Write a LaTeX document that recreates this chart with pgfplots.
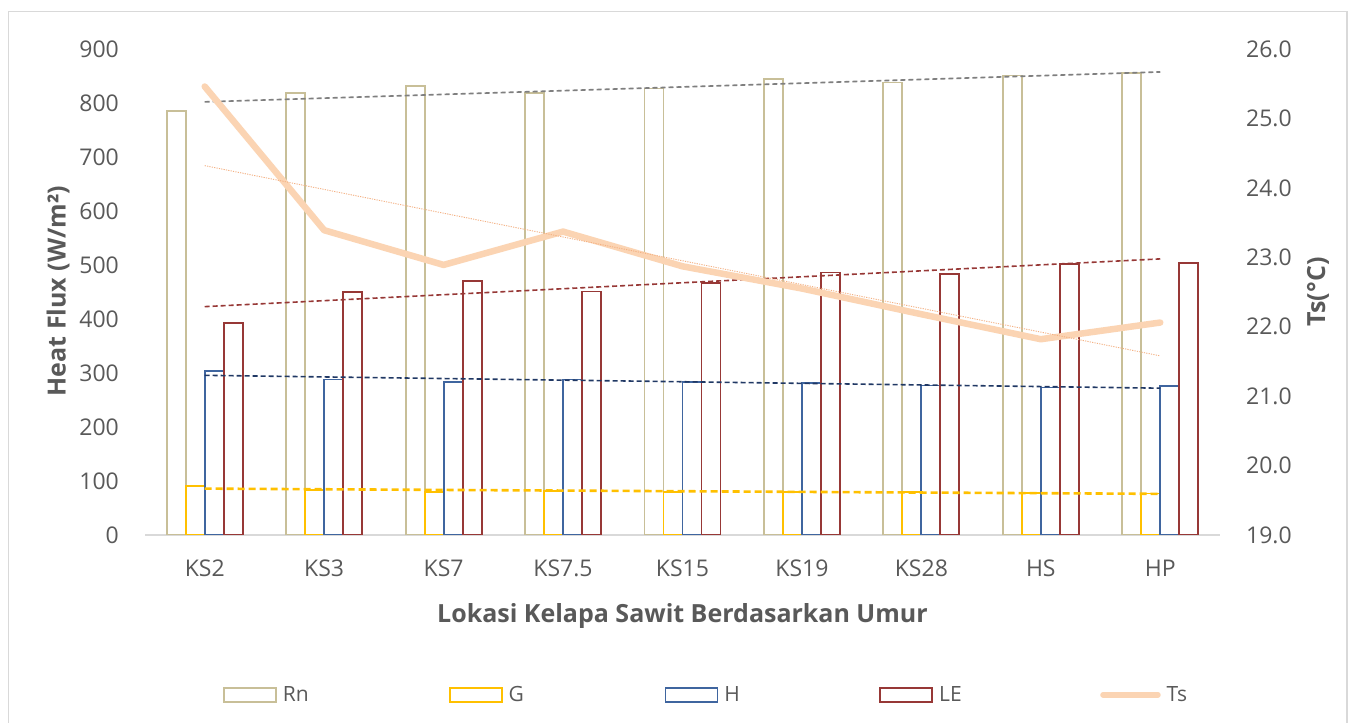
\documentclass[border=0pt]{standalone}
\usepackage{fontspec}
\setmainfont{Open Sans}
\usepackage{pgfplots}
\pgfplotsset{compat=1.18}

\definecolor{rncol}{HTML}{C8BF98}
\definecolor{gcol}{HTML}{FFC000}
\definecolor{hcol}{HTML}{3F659F}
\definecolor{lecol}{HTML}{973836}
\definecolor{tscol}{HTML}{FBD4B3}
\definecolor{txt}{HTML}{595959}
\definecolor{framecol}{HTML}{D9D9D9}
\definecolor{htrend}{HTML}{203864}
\definecolor{rntrend}{HTML}{7F7F7F}
\definecolor{tstrend}{HTML}{F4B183}

\newcommand{\tickfont}{\fontsize{23bp}{27bp}\selectfont}
\newcommand{\titlefont}{\fontsize{25bp}{30bp}\selectfont\bfseries}

\pgfplotsset{
  boxlegend/.style={legend image code/.code={\draw[draw=#1, line width=1.8bp] (0bp,-7bp) rectangle (52bp,7bp);}},
  common/.style={
    at={(145bp,188bp)}, anchor=south west,
    scale only axis, width=1075bp, height=486bp,
    xmin=-0.5, xmax=8.5,
    major tick length=0pt, tick style={draw=none},
    tick label style={font=\tickfont, text=txt, inner sep=0pt},
    /pgf/number format/assume math mode=true,
    label style={font=\titlefont, text=txt, inner sep=0pt},
  },
}

\begin{document}
\begin{tikzpicture}
\useasboundingbox (0,0) rectangle (1352bp,723bp);
\fill[white] (0,0) rectangle (1352bp,723bp);
\draw[framecol, line width=1.2bp] (8.3bp,-5bp) -- (8.3bp,711.5bp) -- (1347bp,711.5bp) -- (1347bp,-5bp);

\begin{axis}[common,
  ymin=0, ymax=900, ytick={0,100,...,900},
  xtick={0,...,8},
  xticklabels={KS2,KS3,KS7,KS7.5,KS15,KS19,KS28,HS,HP},
  axis y line*=left, axis x line*=bottom,
  y axis line style={draw=none},
  x axis line style={draw=framecol, line width=2bp, -},
  yticklabel shift=26bp, xticklabel shift=25bp,
  xlabel={Lokasi Kelapa Sawit Berdasarkan Umur},
  xlabel style={at={(axis description cs:0.5,-0.14)}, anchor=north},
  ylabel={Heat Flux (W/m²)},
  ylabel style={at={(axis description cs:-0.0809,0.502)}, anchor=center},
  legend columns=5,
  legend cell align=left,
  legend style={at={(axis description cs:0.0726,-0.329)}, anchor=west,
    draw=none, fill=none, inner sep=0pt, outer sep=0pt,
    font=\fontsize{21bp}{25bp}\selectfont, text=txt,
    /tikz/column sep=0pt,
    nodes={inner sep=0pt, outer sep=0pt},
    /tikz/every odd column/.append style={column sep=6bp}},
]
% bars
\addplot[ybar, bar width=19bp, bar shift=-28.5bp, draw=rncol, line width=1.8bp, fill=none, boxlegend=rncol]
  coordinates {(0,785) (1,819) (2,831) (3,818) (4,827) (5,844) (6,838) (7,851) (8,855)};
\addlegendentry{\makebox[166bp][l]{Rn}}
\addplot[ybar, bar width=19bp, bar shift=-9.5bp, draw=gcol, line width=1.8bp, fill=none, boxlegend=gcol]
  coordinates {(0,91) (1,83) (2,80) (3,81) (4,80) (5,79) (6,79) (7,78) (8,77)};
\addlegendentry{\makebox[156bp][l]{G}}
\addplot[ybar, bar width=19bp, bar shift=9.5bp, draw=hcol, line width=1.8bp, fill=none, boxlegend=hcol]
  coordinates {(0,304) (1,288) (2,284) (3,288) (4,283) (5,281) (6,277) (7,273) (8,276)};
\addlegendentry{\makebox[155bp][l]{H}}
\addplot[ybar, bar width=19bp, bar shift=28.5bp, draw=lecol, line width=1.8bp, fill=none, boxlegend=lecol]
  coordinates {(0,392) (1,450) (2,470) (3,451) (4,466) (5,486) (6,484) (7,502) (8,503)};
\addlegendentry{\makebox[161bp][l]{LE}}
\addlegendimage{legend image code/.code={\draw[tscol, line width=5.5bp, line cap=round] (0bp,0bp) -- (55bp,0bp);}}
\addlegendentry{Ts}

% linear trend lines
\addplot[forget plot, rntrend, line width=1.6bp, dash pattern=on 5bp off 3bp] coordinates {(0,802.1) (8,857.5)};
\addplot[forget plot, lecol, line width=1.6bp, dash pattern=on 5bp off 3bp] coordinates {(0,422.9) (8,511.3)};
\addplot[forget plot, htrend, line width=1.6bp, dash pattern=on 5bp off 3bp] coordinates {(0,295.7) (8,271.9)};
\addplot[forget plot, gcol, line width=2.6bp, dash pattern=on 7bp off 4bp] coordinates {(0,85.9) (8,76.2)};
\end{axis}

\begin{axis}[common,
  ymin=19, ymax=26, ytick={19,...,26},
  axis y line*=right, axis x line=none,
  y axis line style={draw=none},
  yticklabel style={/pgf/number format/fixed, /pgf/number format/fixed zerofill, /pgf/number format/precision=1},
  yticklabel shift=26bp,
  ylabel={Ts(°C)},
  ylabel style={at={(axis description cs:1.0912,0.5)}, anchor=center},
]
\addplot[tscol, line width=6.5bp, line join=round, line cap=round]
  coordinates {(0,25.46) (1,23.39) (2,22.89) (3,23.37) (4,22.87) (5,22.55) (6,22.18) (7,21.82) (8,22.06)};
\addplot[tstrend, line width=0.9bp, dash pattern=on 1.2bp off 1.2bp] coordinates {(0,24.32) (8,21.58)};
\end{axis}
\end{tikzpicture}
\end{document}
